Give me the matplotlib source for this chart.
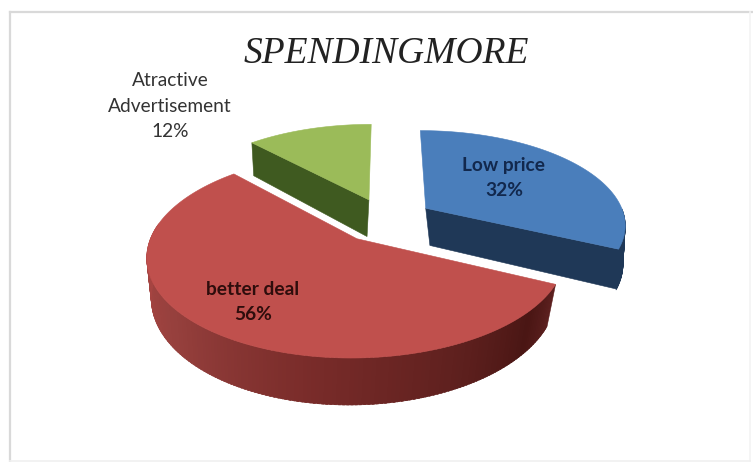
import numpy as np
import matplotlib
matplotlib.use("Agg")
import matplotlib.pyplot as plt
from matplotlib.colors import to_rgb
from matplotlib.lines import Line2D
from matplotlib.patches import Polygon

title = "SPENDINGMORE"
names = ["Low price", "better deal", "Atractive\nAdvertisement"]
shares = [32, 56, 12]
top_colors = ["#4a7ebb", "#c0504d", "#9bbb59"]
side_colors = ["#1f3857", "#7a2c2a", "#3f5a20"]

# pie geometry, in pixels
cx, cy = 386, 220
rx, ry = 200, 93.5
tilt = 0.16
explode = 0.24
depth = 38
base_shrink = 0.968


def project(u, v):
    p = 1 / (1 - tilt * v)
    return cx + rx * u * p, cy + ry * v * p, p


def rim(a, off):
    return np.sin(a) + off[0], -np.cos(a) + off[1]


def top_point(u, v):
    x, y, p = project(u, v)
    return x, y


def low_point(u, v, x_mid):
    x, y, p = project(u, v)
    return x_mid + (x - x_mid) * base_shrink, y + depth * p


def quad(ax, pts, color, z):
    ax.add_patch(Polygon(pts, closed=True, fc=color, ec=color, lw=0.4, zorder=z))


def red_shade(a):
    # side wall of the big slice: dark on the right, lighter towards the left
    stops_a = np.radians([115, 130, 150, 190, 230, 270])
    stops_c = np.array([to_rgb(c) for c in ["#5e2120", "#4a1614", "#5c1f1d", "#7a2c2a", "#96403d", "#ab4643"]])
    return tuple(np.interp(a, stops_a, stops_c[:, i]) for i in range(3))


fig = plt.figure(figsize=(7.53, 4.62), dpi=100)
ax = fig.add_axes([0, 0, 1, 1])
ax.set_xlim(0, 753)
ax.set_ylim(462, 0)
ax.axis("off")

# chart frame, strong on top and left, almost gone on the other two sides
ax.add_line(Line2D([10.5, 10.5], [461, 11.5], color="#d9d9d9", lw=1.6, zorder=1))
ax.add_line(Line2D([10.5, 753], [11.5, 11.5], color="#d9d9d9", lw=1.6, zorder=1))
ax.add_line(Line2D([750.5, 750.5], [11.5, 461], color="#f4f4f4", lw=1.2, zorder=1))
ax.add_line(Line2D([10.5, 750.5], [460.5, 460.5], color="#f0f0f0", lw=1.2, zorder=1))

fractions = np.array(shares) / sum(shares)
ends = np.cumsum(fractions) * 2 * np.pi
starts = ends - fractions * 2 * np.pi

# slices are painted back to front
for i in [2, 0, 1]:
    a0, a1 = starts[i], ends[i]
    mid = (a0 + a1) / 2
    off = (explode * np.sin(mid), -explode * np.cos(mid))
    z = {2: 2, 0: 4, 1: 6}[i]
    angles = np.linspace(a0, a1, 200)
    outline = [top_point(*rim(a, off)) for a in angles]
    x_mid = np.mean([p[0] for p in outline])
    apex = off

    # cut face towards the viewer
    if i == 0 or i == 2:
        edge = rim(a1 if i == 0 else a0, off)
        quad(ax, [top_point(*apex), top_point(*edge), low_point(*edge, x_mid), low_point(*apex, x_mid)],
             side_colors[i], z)

    # outer wall, only the part facing front
    front = angles[(angles > np.pi / 2) & (angles < 3 * np.pi / 2 + 0.15)]
    for a, b in zip(front[:-1], front[1:]):
        pa, pb = rim(a, off), rim(b + 0.01, off)
        color = red_shade(a) if i == 1 else side_colors[i]
        quad(ax, [top_point(*pa), top_point(*pb), low_point(*pb, x_mid), low_point(*pa, x_mid)], color, z)

    ax.add_patch(Polygon([top_point(*apex)] + outline, closed=True, fc=top_colors[i],
                         ec=top_colors[i], lw=0.4, zorder=z + 1))

ax.text(386, 54, title, family="Liberation Serif", style="italic", fontsize=27,
        color="#222222", ha="center", va="center", zorder=10)

label_pos = [(504, 178), (253, 302), (170, 106)]
label_colors = ["#12284d", "#2e0d0c", "#333333"]
label_weight = ["bold", "bold", "normal"]
for name, share, pos, color, weight in zip(names, shares, label_pos, label_colors, label_weight):
    ax.text(pos[0], pos[1], f"{name}\n{share}%", family="Lato", fontsize=13.8, fontweight=weight,
            color=color, ha="center", va="center", linespacing=1.58, zorder=10)

fig.savefig("out.png", dpi=100)
